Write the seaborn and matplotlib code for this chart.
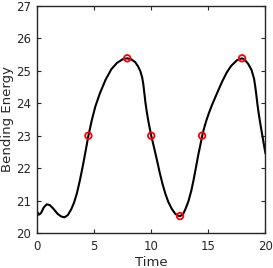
import matplotlib
matplotlib.use("Agg")
import matplotlib.pyplot as plt
import pandas as pd
import seaborn as sns

# curve
time = [0.0, 0.15, 0.35, 0.6, 0.85, 1.1, 1.4, 1.8, 2.1, 2.4, 2.7, 3.0, 3.25, 3.5,
        3.75, 4.0, 4.25, 4.5, 4.8, 5.1, 5.5, 6.0, 6.5, 7.0, 7.5, 7.9, 8.25, 8.6,
        8.85, 9.05, 9.2, 9.3, 9.4, 9.5, 9.6, 9.7, 9.85, 10.0, 10.25, 10.5, 10.75,
        11.0, 11.25, 11.5, 11.8, 12.1, 12.35, 12.55, 12.8, 13.0, 13.25, 13.5,
        13.7, 13.9, 14.1, 14.3, 14.45, 14.6, 14.8, 15.05, 15.3, 15.75, 16.2,
        16.6, 17.0, 17.5, 17.95, 18.2, 18.5, 18.78, 19.0, 19.1, 19.2, 19.3,
        19.4, 19.5, 19.6, 19.8, 20.0]
energy = [20.68, 20.57, 20.62, 20.8, 20.89, 20.87, 20.77, 20.6, 20.52, 20.49,
          20.56, 20.74, 20.95, 21.24, 21.62, 22.05, 22.52, 23.0, 23.48, 23.89,
          24.3, 24.72, 25.04, 25.24, 25.35, 25.38, 25.35, 25.26, 25.13, 24.98,
          24.8, 24.6, 24.3, 24.0, 23.76, 23.54, 23.26, 23.0, 22.63, 22.25,
          21.85, 21.5, 21.2, 20.96, 20.75, 20.6, 20.54, 20.53, 20.6, 20.75,
          20.98, 21.3, 21.63, 22.0, 22.38, 22.72, 22.98, 23.2, 23.44, 23.7,
          23.93, 24.3, 24.66, 24.94, 25.15, 25.32, 25.38, 25.33, 25.2, 25.02,
          24.75, 24.52, 24.25, 23.95, 23.7, 23.47, 23.26, 22.85, 22.45]

# highlighted points
mark_time = [4.5, 7.9, 10.0, 12.52, 14.45, 17.95]
mark_energy = [23.0, 25.38, 23.0, 20.53, 23.0, 25.38]

sns.set_style("ticks")
plt.rcParams['font.family'] = ['DejaVu Sans']
txt = '#262626'

df = pd.DataFrame({"Time": time, "Energy": energy})
dm = pd.DataFrame({"Time": mark_time, "Energy": mark_energy})

fig = plt.figure(figsize=(2.73, 2.68), dpi=100)
ax = fig.add_axes([0.1355, 0.1295, 0.837, 0.8495])
sns.lineplot(data=df, x="Time", y="Energy", color='black', linewidth=1.5, ax=ax)
sns.scatterplot(data=dm, x="Time", y="Energy", marker='o', s=22,
                facecolor='none', edgecolor='red', linewidth=1.3, ax=ax, zorder=3)

ax.set_xlim(0, 20)
ax.set_ylim(20, 27)
ax.set_xticks([0, 5, 10, 15, 20])
ax.set_yticks(range(20, 28))
ax.tick_params(direction='in', top=True, right=True, length=3, width=0.8,
               labelsize=8.5, colors=txt)
ax.tick_params(axis='x', pad=5)
ax.tick_params(axis='y', pad=4)
for s in ax.spines.values():
    s.set_visible(True)
    s.set_color(txt)
    s.set_linewidth(1.0)
ax.set_xlabel("Time", fontsize=9.5, color=txt, labelpad=2)
ax.set_ylabel("Bending Energy", fontsize=9.5, color=txt, labelpad=2)

fig.savefig("out.png", dpi=100)
